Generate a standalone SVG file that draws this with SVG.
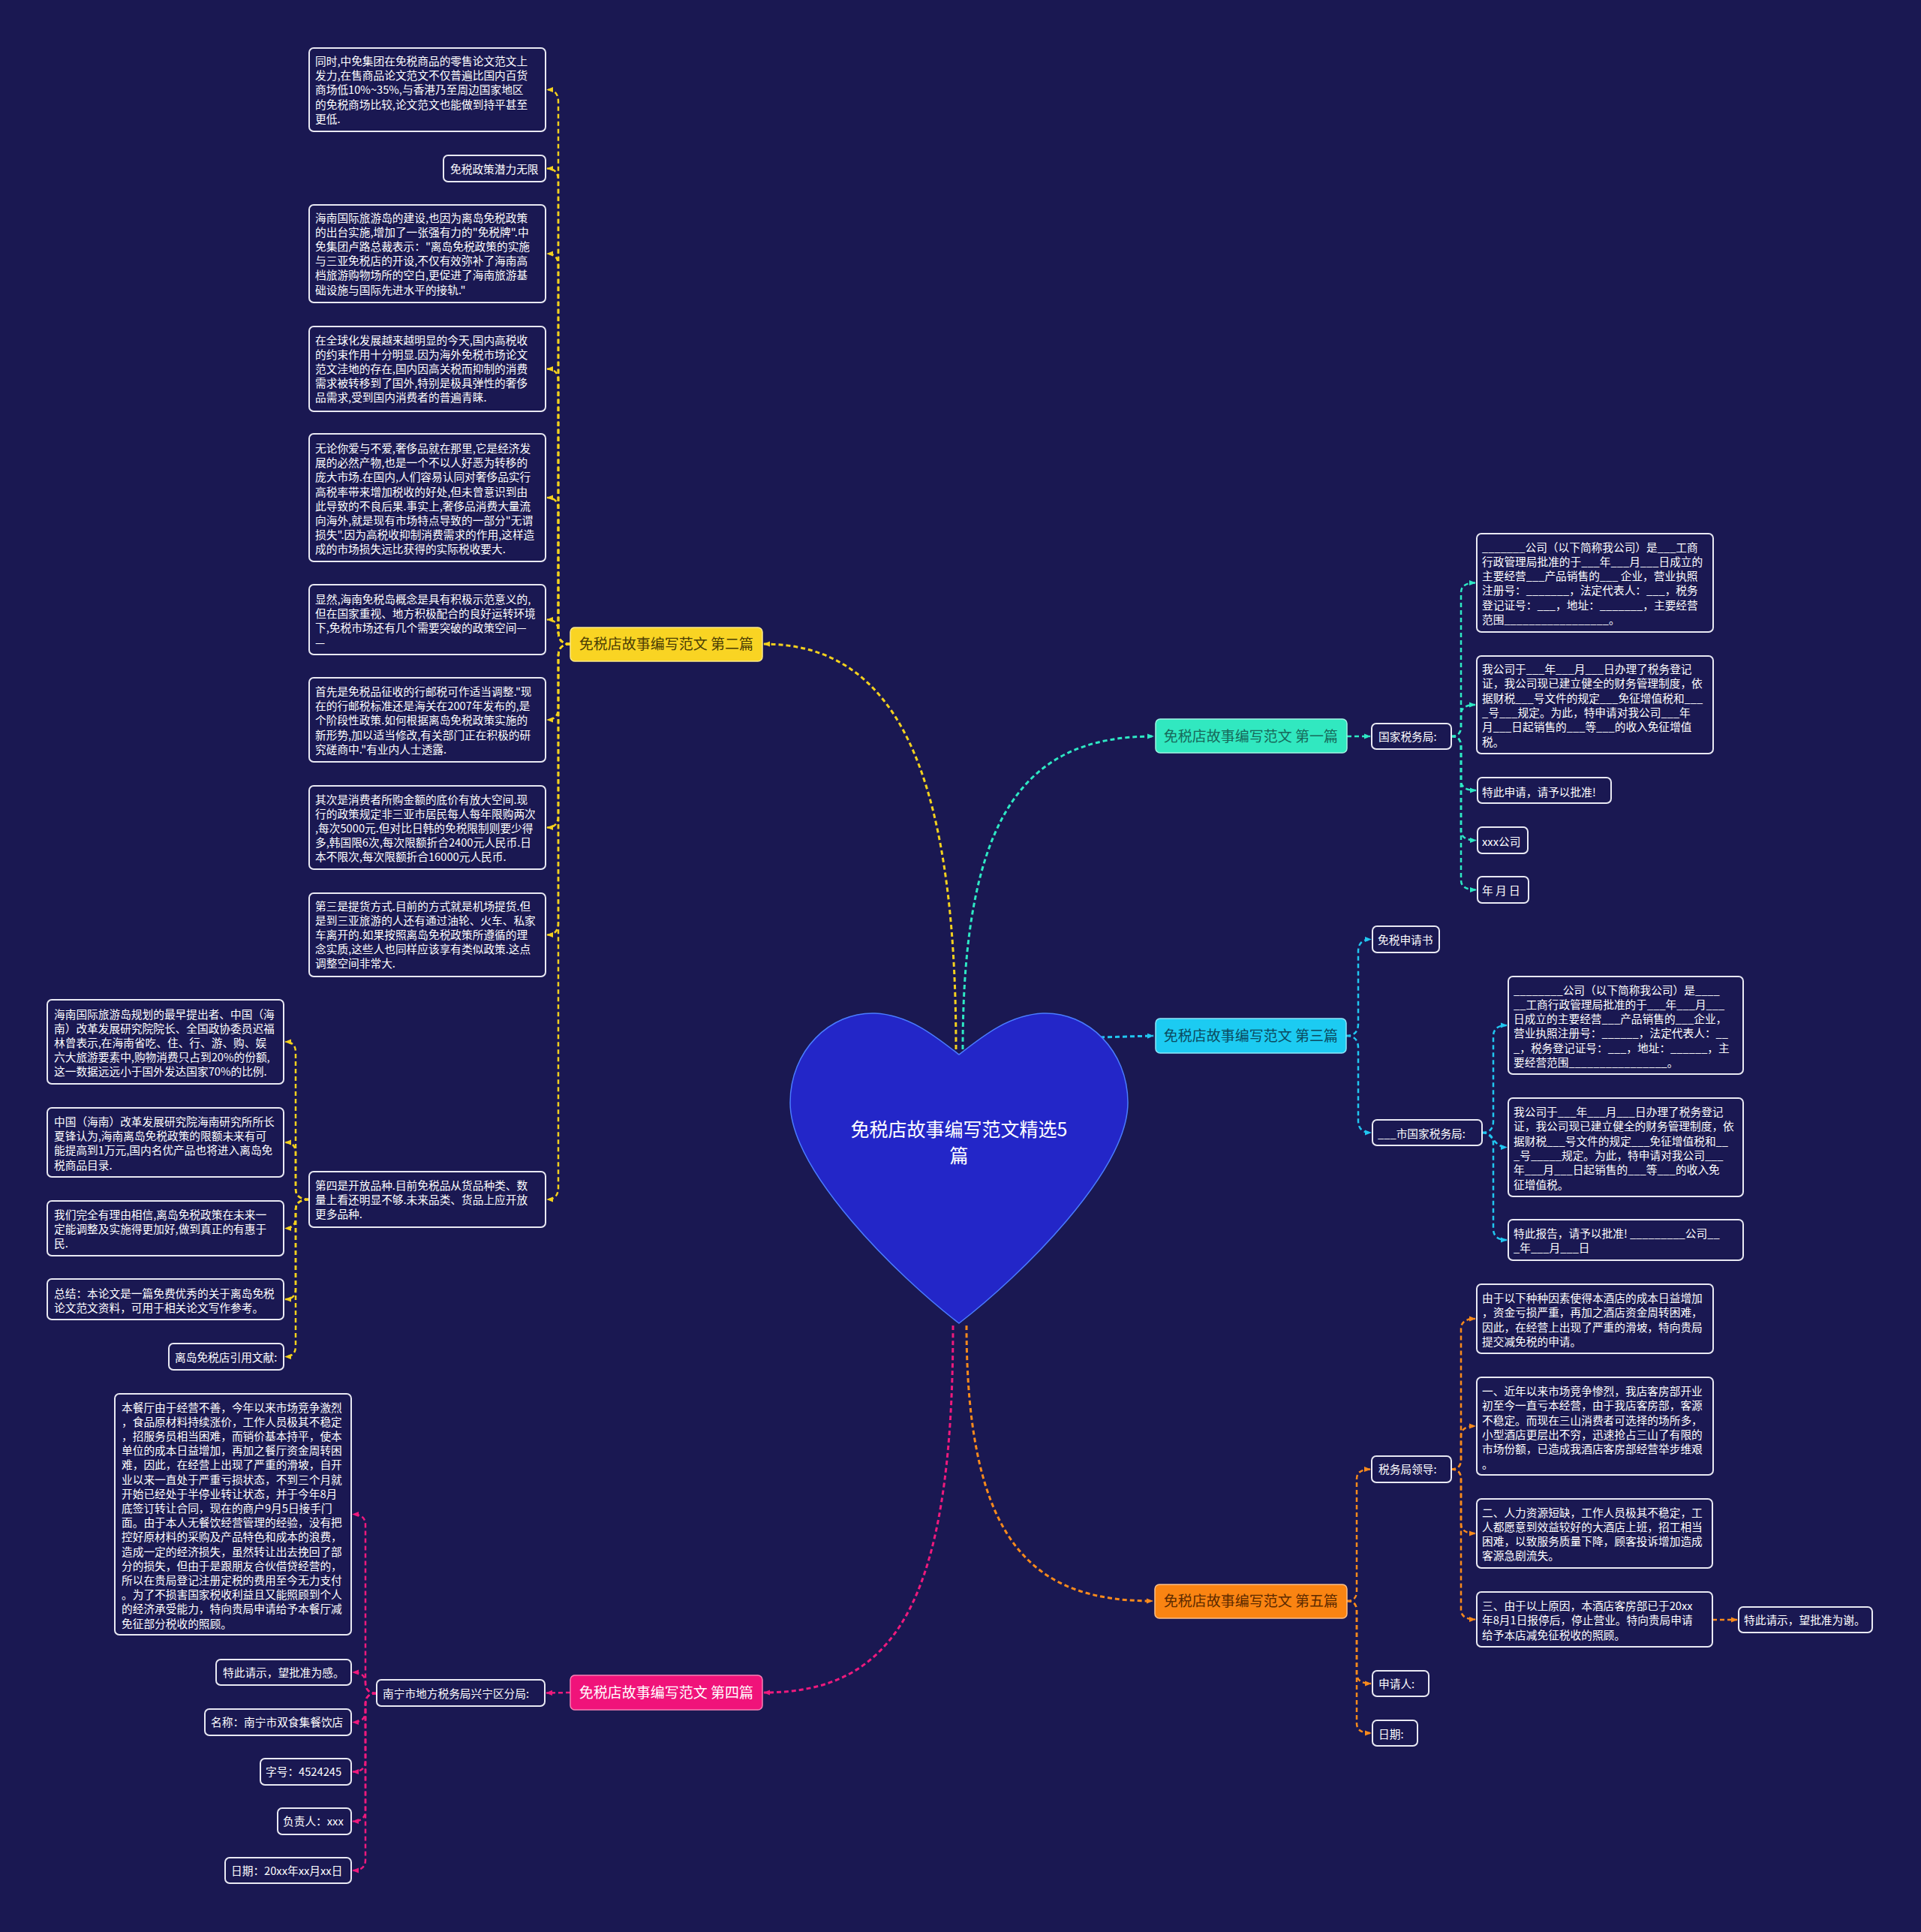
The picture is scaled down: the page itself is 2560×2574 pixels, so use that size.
<svg xmlns="http://www.w3.org/2000/svg" width="2560" height="2574" viewBox="0 0 2560 2574">
<style>
.box{fill:#1a1852;stroke:#e9e9f3;stroke-width:2}
.t{font-family:"Noto Sans CJK SC","Noto Sans",sans-serif;font-size:14.7px;fill:#ffffff}
.mt{font-family:"Noto Sans CJK SC","Noto Sans",sans-serif;font-size:19px;text-anchor:middle}
.c{fill:none;stroke-width:2.5;stroke-dasharray:6 4}
.m{stroke-width:3}
.cy{stroke:#f4d11e}
.ct{stroke:#2ee8c4}
.cc{stroke:#21c6f0}
.cp{stroke:#ee1a7d}
.co{stroke:#f98a1c}
</style>
<defs>
<marker id="ay" viewBox="0 0 10 10" refX="9" refY="5" markerWidth="9" markerHeight="9" markerUnits="userSpaceOnUse" orient="auto"><path d="M0,1 L10,5 L0,9 z" fill="#f4d11e"/></marker>
<marker id="at" viewBox="0 0 10 10" refX="9" refY="5" markerWidth="9" markerHeight="9" markerUnits="userSpaceOnUse" orient="auto"><path d="M0,1 L10,5 L0,9 z" fill="#2ee8c4"/></marker>
<marker id="ac" viewBox="0 0 10 10" refX="9" refY="5" markerWidth="9" markerHeight="9" markerUnits="userSpaceOnUse" orient="auto"><path d="M0,1 L10,5 L0,9 z" fill="#21c6f0"/></marker>
<marker id="ap" viewBox="0 0 10 10" refX="9" refY="5" markerWidth="9" markerHeight="9" markerUnits="userSpaceOnUse" orient="auto"><path d="M0,1 L10,5 L0,9 z" fill="#ee1a7d"/></marker>
<marker id="ao" viewBox="0 0 10 10" refX="9" refY="5" markerWidth="9" markerHeight="9" markerUnits="userSpaceOnUse" orient="auto"><path d="M0,1 L10,5 L0,9 z" fill="#f98a1c"/></marker>
</defs>
<rect x="0" y="0" width="2560" height="2574" fill="#1a1852"/>

<g id="connectors">
<path class="c m cy" marker-end="url(#ay)" d="M1274 1398 C1274 1020 1190 858 1018 858"/>
<path class="c m ct" marker-end="url(#at)" d="M1283 1398 C1283 1080 1370 981 1537 981"/>
<path class="c m cc" marker-end="url(#ac)" d="M1466 1382 L1537 1380"/>
<path class="c m cp" marker-end="url(#ap)" d="M1270 1766 C1270 2140 1190 2255 1018 2255"/>
<path class="c m co" marker-end="url(#ao)" d="M1288 1766 C1288 2060 1380 2133 1536 2133"/>

<path class="c cy" marker-end="url(#ay)" d="M760 858 Q744 858 744 842 L744 135.5 Q744 119.5 729 119.5"/>
<path class="c cy" marker-end="url(#ay)" d="M760 858 Q744 858 744 842 L744 240.5 Q744 224.5 729 224.5"/>
<path class="c cy" marker-end="url(#ay)" d="M760 858 Q744 858 744 842 L744 354 Q744 338 729 338"/>
<path class="c cy" marker-end="url(#ay)" d="M760 858 Q744 858 744 842 L744 507.5 Q744 491.5 729 491.5"/>
<path class="c cy" marker-end="url(#ay)" d="M760 858 Q744 858 744 842 L744 679 Q744 663 729 663"/>
<path class="c cy" marker-end="url(#ay)" d="M760 858 Q744 858 744 842 L744 841.5 Q744 825.5 729 825.5"/>
<path class="c cy" marker-end="url(#ay)" d="M760 858 Q744 858 744 874 L744 943 Q744 959 729 959"/>
<path class="c cy" marker-end="url(#ay)" d="M760 858 Q744 858 744 874 L744 1086.5 Q744 1102.5 729 1102.5"/>
<path class="c cy" marker-end="url(#ay)" d="M760 858 Q744 858 744 874 L744 1229.5 Q744 1245.5 729 1245.5"/>
<path class="c cy" marker-end="url(#ay)" d="M760 858 Q744 858 744 874 L744 1582 Q744 1598 729 1598"/>
<path class="c cy" marker-end="url(#ay)" d="M412 1598 Q394 1598 394 1584 L394 1402 Q394 1388 380 1388"/>
<path class="c cy" marker-end="url(#ay)" d="M412 1598 Q394 1598 394 1584 L394 1536 Q394 1522 380 1522"/>
<path class="c cy" marker-end="url(#ay)" d="M412 1598 Q394 1598 394 1612 L394 1622.5 Q394 1636.5 380 1636.5"/>
<path class="c cy" marker-end="url(#ay)" d="M412 1598 Q394 1598 394 1612 L394 1717 Q394 1731 380 1731"/>
<path class="c cy" marker-end="url(#ay)" d="M412 1598 Q394 1598 394 1612 L394 1793.5 Q394 1807.5 380 1807.5"/>

<path class="c cp" marker-end="url(#ap)" d="M760 2255 L728 2255.5"/>
<path class="c cp" marker-end="url(#ap)" d="M502 2256 Q487 2256 487 2242 L487 2031.5 Q487 2017.5 470 2017.5"/>
<path class="c cp" marker-end="url(#ap)" d="M502 2256 Q487 2256 487 2242 Q487 2228 470 2228"/>
<path class="c cp" marker-end="url(#ap)" d="M502 2256 Q487 2256 487 2270 L487 2280.5 Q487 2294.5 470 2294.5"/>
<path class="c cp" marker-end="url(#ap)" d="M502 2256 Q487 2256 487 2270 L487 2346.5 Q487 2360.5 470 2360.5"/>
<path class="c cp" marker-end="url(#ap)" d="M502 2256 Q487 2256 487 2270 L487 2412.5 Q487 2426.5 470 2426.5"/>
<path class="c cp" marker-end="url(#ap)" d="M502 2256 Q487 2256 487 2270 L487 2478 Q487 2492 470 2492"/>

<path class="c ct" marker-end="url(#at)" d="M1795 981 L1826 981"/>
<path class="c ct" marker-end="url(#at)" d="M1934 981 Q1947 981 1947 968 L1947 789.5 Q1947 776.5 1966 776.5"/>
<path class="c ct" marker-end="url(#at)" d="M1934 981 Q1947 981 1947 968 L1947 952 Q1947 939 1966 939"/>
<path class="c ct" marker-end="url(#at)" d="M1934 981 Q1947 981 1947 994 L1947 1040 Q1947 1053 1967 1053"/>
<path class="c ct" marker-end="url(#at)" d="M1934 981 Q1947 981 1947 994 L1947 1106.5 Q1947 1119.5 1967 1119.5"/>
<path class="c ct" marker-end="url(#at)" d="M1934 981 Q1947 981 1947 994 L1947 1172.5 Q1947 1185.5 1967 1185.5"/>

<path class="c cc" marker-end="url(#ac)" d="M1794 1380 Q1810 1380 1810 1364 L1810 1267.5 Q1810 1251.5 1827 1251.5"/>
<path class="c cc" marker-end="url(#ac)" d="M1794 1380 Q1810 1380 1810 1396 L1810 1493 Q1810 1509 1827 1509"/>
<path class="c cc" marker-end="url(#ac)" d="M1975 1509 Q1990 1509 1990 1494 L1990 1381 Q1990 1366 2008 1366"/>
<path class="c cc" marker-end="url(#ac)" d="M1975 1509 C1990 1509 1990 1528.5 2008 1528.5"/>
<path class="c cc" marker-end="url(#ac)" d="M1975 1509 Q1990 1509 1990 1524 L1990 1637 Q1990 1652 2008 1652"/>

<path class="c co" marker-end="url(#ao)" d="M1795 2133 Q1808 2133 1808 2120 L1808 1970.5 Q1808 1957.5 1826 1957.5"/>
<path class="c co" marker-end="url(#ao)" d="M1795 2133 Q1808 2133 1808 2146 L1808 2230 Q1808 2243 1827 2243"/>
<path class="c co" marker-end="url(#ao)" d="M1795 2133 Q1808 2133 1808 2146 L1808 2296 Q1808 2309 1827 2309"/>
<path class="c co" marker-end="url(#ao)" d="M1934 1957.5 Q1947 1957.5 1947 1944.5 L1947 1770 Q1947 1757 1966 1757"/>
<path class="c co" marker-end="url(#ao)" d="M1934 1957.5 Q1947 1957.5 1947 1944.5 L1947 1913 Q1947 1900 1966 1900"/>
<path class="c co" marker-end="url(#ao)" d="M1934 1957.5 Q1947 1957.5 1947 1970.5 L1947 2030 Q1947 2043 1966 2043"/>
<path class="c co" marker-end="url(#ao)" d="M1934 1957.5 Q1947 1957.5 1947 1970.5 L1947 2144.5 Q1947 2157.5 1966 2157.5"/>
<path class="c co" marker-end="url(#ao)" d="M2282 2158 L2315 2158"/>
</g>

<g id="center">
<path d="M1278 1405 C1310 1380 1345 1352 1390 1350 C1450 1348 1503 1400 1503 1469 C1503 1560 1360 1700 1278 1763 C1196 1700 1053 1560 1053 1469 C1053 1400 1106 1348 1166 1350 C1211 1352 1246 1380 1278 1405 Z" fill="#2326c8" stroke="#4a7cff" stroke-width="1.5"/>
<text x="1278" y="1514" font-family="'Noto Sans CJK SC','Noto Sans',sans-serif" font-size="25" fill="#ffffff" text-anchor="middle">免税店故事编写范文精选5</text>
<text x="1278" y="1549" font-family="'Noto Sans CJK SC','Noto Sans',sans-serif" font-size="25" fill="#ffffff" text-anchor="middle">篇</text>
</g>

<g id="main2"><rect x="760" y="836" width="256" height="45" rx="6" fill="#f9d423" stroke="#fbe98a" stroke-width="1.5"/><text class="mt" x="888" y="865" fill="#4a3d05">免税店故事编写范文 第二篇</text></g>
<g id="main1"><rect x="1540" y="958" width="255" height="45" rx="6" fill="#31e8c0" stroke="#9ef5e2" stroke-width="1.5"/><text class="mt" x="1667" y="988" fill="#17695a">免税店故事编写范文 第一篇</text></g>
<g id="main3"><rect x="1540" y="1357" width="254" height="46" rx="6" fill="#1ccbf2" stroke="#8fe6fa" stroke-width="1.5"/><text class="mt" x="1667" y="1387" fill="#0b4a60">免税店故事编写范文 第三篇</text></g>
<g id="main4"><rect x="760" y="2232" width="256" height="46" rx="6" fill="#f0137a" stroke="#f77fb5" stroke-width="1.5"/><text class="mt" x="888" y="2262" fill="#ffffff">免税店故事编写范文 第四篇</text></g>
<g id="main5"><rect x="1539" y="2111" width="256" height="45" rx="6" fill="#fa8412" stroke="#fcc08a" stroke-width="1.5"/><text class="mt" x="1667" y="2140" fill="#5c2a00">免税店故事编写范文 第五篇</text></g>

<g id="nA"><rect class="box" x="412" y="64" width="315" height="111" rx="6"/><text class="t" x="420" y="87"><tspan x="420">同时,中免集团在免税商品的零售论文范文上</tspan><tspan x="420" dy="19.2">发力,在售商品论文范文不仅普遍比国内百货</tspan><tspan x="420" dy="19.2">商场低10%~35%,与香港乃至周边国家地区</tspan><tspan x="420" dy="19.2">的免税商场比较,论文范文也能做到持平甚至</tspan><tspan x="420" dy="19.2">更低.</tspan></text></g>
<g id="nB"><rect class="box" x="591" y="207" width="136" height="35" rx="6"/><text class="t" x="600" y="230.5">免税政策潜力无限</text></g>
<g id="nC"><rect class="box" x="412" y="273" width="315" height="130" rx="6"/><text class="t" x="420" y="295.5"><tspan x="420">海南国际旅游岛的建设,也因为离岛免税政策</tspan><tspan x="420" dy="19.2">的出台实施,增加了一张强有力的"免税牌".中</tspan><tspan x="420" dy="19.2">免集团卢路总裁表示："离岛免税政策的实施</tspan><tspan x="420" dy="19.2">与三亚免税店的开设,不仅有效弥补了海南高</tspan><tspan x="420" dy="19.2">档旅游购物场所的空白,更促进了海南旅游基</tspan><tspan x="420" dy="19.2">础设施与国际先进水平的接轨."</tspan></text></g>
<g id="nD"><rect class="box" x="412" y="435" width="315" height="113" rx="6"/><text class="t" x="420" y="458.5"><tspan x="420">在全球化发展越来越明显的今天,国内高税收</tspan><tspan x="420" dy="19.2">的约束作用十分明显.因为海外免税市场论文</tspan><tspan x="420" dy="19.2">范文洼地的存在,国内因高关税而抑制的消费</tspan><tspan x="420" dy="19.2">需求被转移到了国外,特别是极具弹性的奢侈</tspan><tspan x="420" dy="19.2">品需求,受到国内消费者的普遍青睐.</tspan></text></g>
<g id="nE"><rect class="box" x="412" y="578" width="315" height="170" rx="6"/><text class="t" x="420" y="603"><tspan x="420">无论你爱与不爱,奢侈品就在那里,它是经济发</tspan><tspan x="420" dy="19.2">展的必然产物,也是一个不以人好恶为转移的</tspan><tspan x="420" dy="19.2">庞大市场.在国内,人们容易认同对奢侈品实行</tspan><tspan x="420" dy="19.2">高税率带来增加税收的好处,但未曾意识到由</tspan><tspan x="420" dy="19.2">此导致的不良后果.事实上,奢侈品消费大量流</tspan><tspan x="420" dy="19.2">向海外,就是现有市场特点导致的一部分"无谓</tspan><tspan x="420" dy="19.2">损失".因为高税收抑制消费需求的作用,这样造</tspan><tspan x="420" dy="19.2">成的市场损失远比获得的实际税收要大.</tspan></text></g>
<g id="nF"><rect class="box" x="412" y="779" width="315" height="93" rx="6"/><text class="t" x="420" y="804"><tspan x="420">显然,海南免税岛概念是具有积极示范意义的,</tspan><tspan x="420" dy="19.2">但在国家重视、地方积极配合的良好运转环境</tspan><tspan x="420" dy="19.2">下,免税市场还有几个需要突破的政策空间—</tspan><tspan x="420" dy="19.2">—</tspan></text></g>
<g id="nG"><rect class="box" x="412" y="903" width="315" height="112" rx="6"/><text class="t" x="420" y="927"><tspan x="420">首先是免税品征收的行邮税可作适当调整."现</tspan><tspan x="420" dy="19.2">在的行邮税标准还是海关在2007年发布的,是</tspan><tspan x="420" dy="19.2">个阶段性政策.如何根据离岛免税政策实施的</tspan><tspan x="420" dy="19.2">新形势,加以适当修改,有关部门正在积极的研</tspan><tspan x="420" dy="19.2">究磋商中."有业内人士透露.</tspan></text></g>
<g id="nH"><rect class="box" x="412" y="1047" width="315" height="111" rx="6"/><text class="t" x="420" y="1070.5"><tspan x="420">其次是消费者所购金额的底价有放大空间.现</tspan><tspan x="420" dy="19.1">行的政策规定非三亚市居民每人每年限购两次</tspan><tspan x="420" dy="19.1">,每次5000元.但对比日韩的免税限制则要少得</tspan><tspan x="420" dy="19.1">多,韩国限6次,每次限额折合2400元人民币.日</tspan><tspan x="420" dy="19.1">本不限次,每次限额折合16000元人民币.</tspan></text></g>
<g id="nI"><rect class="box" x="412" y="1190" width="315" height="111" rx="6"/><text class="t" x="420" y="1212.7"><tspan x="420">第三是提货方式.目前的方式就是机场提货.但</tspan><tspan x="420" dy="19.1">是到三亚旅游的人还有通过油轮、火车、私家</tspan><tspan x="420" dy="19.1">车离开的.如果按照离岛免税政策所遵循的理</tspan><tspan x="420" dy="19.1">念实质,这些人也同样应该享有类似政策.这点</tspan><tspan x="420" dy="19.1">调整空间非常大.</tspan></text></g>
<g id="nJ"><rect class="box" x="412" y="1561" width="315" height="74" rx="6"/><text class="t" x="420" y="1585"><tspan x="420">第四是开放品种.目前免税品从货品种类、数</tspan><tspan x="420" dy="19.1">量上看还明显不够.未来品类、货品上应开放</tspan><tspan x="420" dy="19.1">更多品种.</tspan></text></g>
<g id="nK"><rect class="box" x="63" y="1332" width="315" height="112" rx="6"/><text class="t" x="72" y="1356.5"><tspan x="72">海南国际旅游岛规划的最早提出者、中国（海</tspan><tspan x="72" dy="19.2">南）改革发展研究院院长、全国政协委员迟福</tspan><tspan x="72" dy="19.2">林曾表示,在海南省吃、住、行、游、购、娱</tspan><tspan x="72" dy="19.2">六大旅游要素中,购物消费只占到20%的份额,</tspan><tspan x="72" dy="19.2">这一数据远远小于国外发达国家70%的比例.</tspan></text></g>
<g id="nL"><rect class="box" x="63" y="1476" width="315" height="92" rx="6"/><text class="t" x="72" y="1500"><tspan x="72">中国（海南）改革发展研究院海南研究所所长</tspan><tspan x="72" dy="19.2">夏锋认为,海南离岛免税政策的限额未来有可</tspan><tspan x="72" dy="19.2">能提高到1万元,国内名优产品也将进入离岛免</tspan><tspan x="72" dy="19.2">税商品目录.</tspan></text></g>
<g id="nM"><rect class="box" x="63" y="1600" width="315" height="73" rx="6"/><text class="t" x="72" y="1624"><tspan x="72">我们完全有理由相信,离岛免税政策在未来一</tspan><tspan x="72" dy="19.2">定能调整及实施得更加好,做到真正的有惠于</tspan><tspan x="72" dy="19.2">民.</tspan></text></g>
<g id="nN"><rect class="box" x="63" y="1704" width="315" height="54" rx="6"/><text class="t" x="72" y="1729"><tspan x="72">总结：本论文是一篇免费优秀的关于离岛免税</tspan><tspan x="72" dy="19.2">论文范文资料，可用于相关论文写作参考。</tspan></text></g>
<g id="nO"><rect class="box" x="225" y="1790" width="153" height="35" rx="6"/><text class="t" x="233" y="1814">离岛免税店引用文献:</text></g>

<g id="nP"><rect class="box" x="153" y="1857" width="315" height="321" rx="6"/><text class="t" x="162" y="1880.5"><tspan x="162">本餐厅由于经营不善，今年以来市场竞争激烈</tspan><tspan x="162" dy="19.2">，食品原材料持续涨价，工作人员极其不稳定</tspan><tspan x="162" dy="19.2">，招服务员相当困难，而销价基本持平，使本</tspan><tspan x="162" dy="19.2">单位的成本日益增加，再加之餐厅资金周转困</tspan><tspan x="162" dy="19.2">难，因此，在经营上出现了严重的滑坡，自开</tspan><tspan x="162" dy="19.2">业以来一直处于严重亏损状态，不到三个月就</tspan><tspan x="162" dy="19.2">开始已经处于半停业转让状态，并于今年8月</tspan><tspan x="162" dy="19.2">底签订转让合同，现在的商户9月5日接手门</tspan><tspan x="162" dy="19.2">面。由于本人无餐饮经营管理的经验，没有把</tspan><tspan x="162" dy="19.2">控好原材料的采购及产品特色和成本的浪费，</tspan><tspan x="162" dy="19.2">造成一定的经济损失，虽然转让出去挽回了部</tspan><tspan x="162" dy="19.2">分的损失，但由于是跟朋友合伙借贷经营的，</tspan><tspan x="162" dy="19.2">所以在贵局登记注册定税的费用至今无力支付</tspan><tspan x="162" dy="19.2">。为了不损害国家税收利益且又能照顾到个人</tspan><tspan x="162" dy="19.2">的经济承受能力，特向贵局申请给予本餐厅减</tspan><tspan x="162" dy="19.2">免征部分税收的照顾。</tspan></text></g>
<g id="nQ"><rect class="box" x="288" y="2211" width="180" height="34" rx="6"/><text class="t" x="297" y="2233.5">特此请示，望批准为感。</text></g>
<g id="nNanning"><rect class="box" x="502" y="2238" width="224" height="35" rx="6"/><text class="t" x="510" y="2261.5">南宁市地方税务局兴宁区分局:</text></g>
<g id="nName"><rect class="box" x="273" y="2277" width="195" height="35" rx="6"/><text class="t" x="281" y="2300">名称：南宁市双食集餐饮店</text></g>
<g id="nZihao"><rect class="box" x="347" y="2343" width="121" height="35" rx="6"/><text class="t" x="354" y="2366">字号：4524245</text></g>
<g id="nFzr"><rect class="box" x="370" y="2409" width="98" height="35" rx="6"/><text class="t" x="377" y="2432">负责人：xxx</text></g>
<g id="nDateL"><rect class="box" x="300" y="2475" width="168" height="34" rx="6"/><text class="t" x="308" y="2498">日期：20xx年xx月xx日</text></g>

<g id="nGuo"><rect class="box" x="1828" y="964" width="106" height="34" rx="6"/><text class="t" x="1837" y="986.5">国家税务局:</text></g>
<g id="nR1"><rect class="box" x="1968" y="711" width="315" height="131" rx="6"/><text class="t" x="1975" y="734.5"><tspan x="1975">_______公司（以下简称我公司）是___工商</tspan><tspan x="1975" dy="19.3">行政管理局批准的于___年___月___日成立的</tspan><tspan x="1975" dy="19.3">主要经营___产品销售的___ 企业，营业执照</tspan><tspan x="1975" dy="19.3">注册号：_______，法定代表人：___，税务</tspan><tspan x="1975" dy="19.3">登记证号：___，地址：_______，主要经营</tspan><tspan x="1975" dy="19.3">范围_________________。</tspan></text></g>
<g id="nR2"><rect class="box" x="1968" y="874" width="315" height="130" rx="6"/><text class="t" x="1975" y="897"><tspan x="1975">我公司于___年___月___日办理了税务登记</tspan><tspan x="1975" dy="19.3">证，我公司现已建立健全的财务管理制度，依</tspan><tspan x="1975" dy="19.3">据财税___号文件的规定___免征增值税和___</tspan><tspan x="1975" dy="19.3">_号___规定。为此，特申请对我公司___年</tspan><tspan x="1975" dy="19.3">月___日起销售的___等___的收入免征增值</tspan><tspan x="1975" dy="19.3">税。</tspan></text></g>
<g id="nTeshen"><rect class="box" x="1969" y="1036" width="178" height="34" rx="6"/><text class="t" x="1975" y="1060.5">特此申请，请予以批准!</text></g>
<g id="nXxx"><rect class="box" x="1969" y="1102" width="67" height="35" rx="6"/><text class="t" x="1975" y="1126.5">xxx公司</text></g>
<g id="nNyr"><rect class="box" x="1969" y="1168" width="68" height="35" rx="6"/><text class="t" x="1975" y="1192">年 月 日</text></g>

<g id="nMsq"><rect class="box" x="1829" y="1234" width="89" height="35" rx="6"/><text class="t" x="1836" y="1258">免税申请书</text></g>
<g id="nShi"><rect class="box" x="1829" y="1492" width="146" height="34" rx="6"/><text class="t" x="1836" y="1515.5">___市国家税务局:</text></g>
<g id="nS1"><rect class="box" x="2010" y="1301" width="313" height="130" rx="6"/><text class="t" x="2017" y="1324.5"><tspan x="2017">________公司（以下简称我公司）是____</tspan><tspan x="2017" dy="19.3">__工商行政管理局批准的于___年___月___</tspan><tspan x="2017" dy="19.3">日成立的主要经营___产品销售的___企业，</tspan><tspan x="2017" dy="19.3">营业执照注册号：______，法定代表人：__</tspan><tspan x="2017" dy="19.3">_，税务登记证号：___，地址：______，主</tspan><tspan x="2017" dy="19.3">要经营范围________________。</tspan></text></g>
<g id="nS2"><rect class="box" x="2010" y="1463" width="313" height="131" rx="6"/><text class="t" x="2017" y="1487"><tspan x="2017">我公司于___年___月___日办理了税务登记</tspan><tspan x="2017" dy="19.3">证，我公司现已建立健全的财务管理制度，依</tspan><tspan x="2017" dy="19.3">据财税___号文件的规定___免征增值税和__</tspan><tspan x="2017" dy="19.3">_号_____规定。为此，特申请对我公司___</tspan><tspan x="2017" dy="19.3">年___月___日起销售的___等___的收入免</tspan><tspan x="2017" dy="19.3">征增值税。</tspan></text></g>
<g id="nS3"><rect class="box" x="2010" y="1625" width="313" height="54" rx="6"/><text class="t" x="2017" y="1649"><tspan x="2017">特此报告，请予以批准! _________公司__</tspan><tspan x="2017" dy="19.3">_年___月___日</tspan></text></g>

<g id="nLd"><rect class="box" x="1828" y="1940" width="106" height="35" rx="6"/><text class="t" x="1837" y="1963">税务局领导:</text></g>
<g id="nT1"><rect class="box" x="1968" y="1711" width="315" height="92" rx="6"/><text class="t" x="1975" y="1735"><tspan x="1975">由于以下种种因素使得本酒店的成本日益增加</tspan><tspan x="1975" dy="19.3">，资金亏损严重，再加之酒店资金周转困难，</tspan><tspan x="1975" dy="19.3">因此，在经营上出现了严重的滑坡，特向贵局</tspan><tspan x="1975" dy="19.3">提交减免税的申请。</tspan></text></g>
<g id="nT2"><rect class="box" x="1968" y="1835" width="315" height="130" rx="6"/><text class="t" x="1975" y="1859"><tspan x="1975">一、近年以来市场竞争惨烈，我店客房部开业</tspan><tspan x="1975" dy="19.3">初至今一直亏本经营，由于我店客房部，客源</tspan><tspan x="1975" dy="19.3">不稳定。而现在三山消费者可选择的场所多，</tspan><tspan x="1975" dy="19.3">小型酒店更层出不穷，迅速抢占三山了有限的</tspan><tspan x="1975" dy="19.3">市场份额，已造成我酒店客房部经营举步维艰</tspan><tspan x="1975" dy="19.3">。</tspan></text></g>
<g id="nT3"><rect class="box" x="1968" y="1997" width="314" height="92" rx="6"/><text class="t" x="1975" y="2020.5"><tspan x="1975">二、人力资源短缺，工作人员极其不稳定，工</tspan><tspan x="1975" dy="19.3">人都愿意到效益较好的大酒店上班，招工相当</tspan><tspan x="1975" dy="19.3">困难，以致服务质量下降，顾客投诉增加造成</tspan><tspan x="1975" dy="19.3">客源急剧流失。</tspan></text></g>
<g id="nT4"><rect class="box" x="1968" y="2121" width="314" height="73" rx="6"/><text class="t" x="1975" y="2145"><tspan x="1975">三、由于以上原因，本酒店客房部已于20xx</tspan><tspan x="1975" dy="19.3">年8月1日报停后，停止营业。特向贵局申请</tspan><tspan x="1975" dy="19.3">给予本店减免征税收的照顾。</tspan></text></g>
<g id="nXie"><rect class="box" x="2317" y="2141" width="178" height="34" rx="6"/><text class="t" x="2324" y="2164">特此请示，望批准为谢。</text></g>
<g id="nSqr"><rect class="box" x="1829" y="2226" width="75" height="34" rx="6"/><text class="t" x="1837" y="2249">申请人:</text></g>
<g id="nDateR"><rect class="box" x="1829" y="2292" width="60" height="34" rx="6"/><text class="t" x="1837" y="2315.5">日期:</text></g>
</svg>
